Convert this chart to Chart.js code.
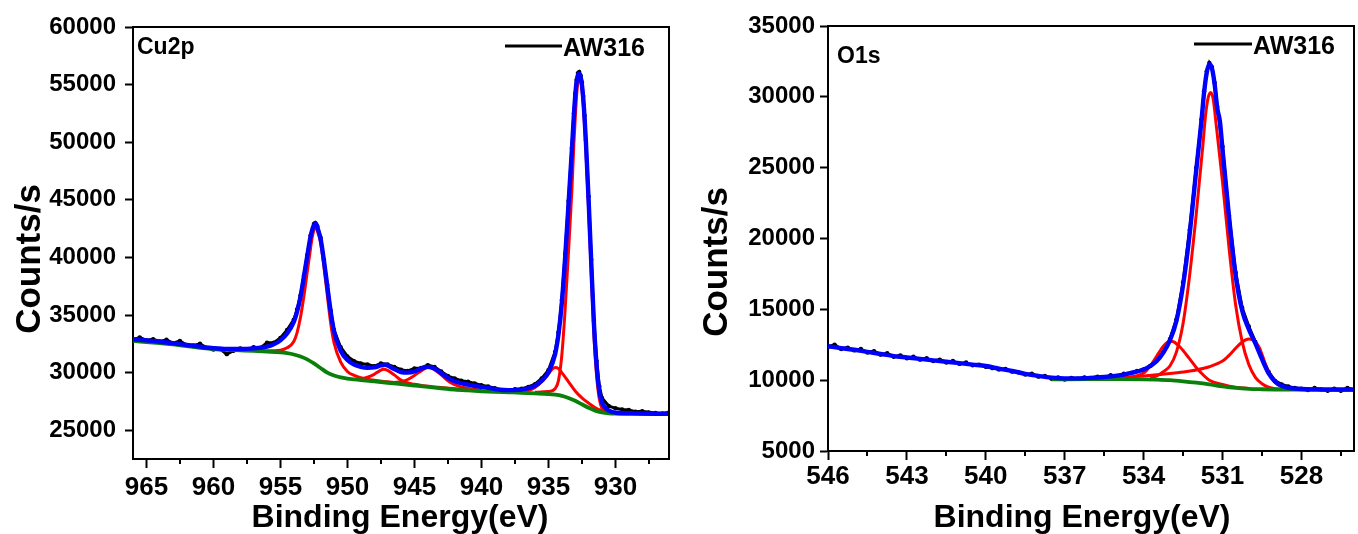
<!DOCTYPE html>
<html>
<head>
<meta charset="utf-8">
<script src="https://cdn.jsdelivr.net/npm/chart.js@4.4.1/dist/chart.umd.min.js"></script>
<style>
  html, body { margin: 0; padding: 0; background: #fff; }
  #wrap { position: relative; width: 1358px; height: 534px; overflow: hidden; }
  canvas { position: absolute; top: 0; }
  #cu { left: 0; }
  #ox { left: 680px; }
</style>
</head>
<body>
<div id="wrap">
  <canvas id="cu" width="680" height="534"></canvas>
  <canvas id="ox" width="678" height="534"></canvas>
</div>
<script>
// ---------- Cu2p ----------
var cuTickX = [965, 960, 955, 950, 945, 940, 935, 930];
var cuMinorX = [962.5, 957.5, 952.5, 947.5, 942.5, 937.5, 932.5, 927.5];
var cuTickY = [25000, 30000, 35000, 40000, 45000, 50000, 55000, 60000];

// raw spectrum (black)
var cuRawE = [966,965.5,965,964.5,964,963.5,963,962.5,962,961.5,961,960.5,960,959.5,959,958.5,958,957.5,957,956.5,956,955.5,955,954.5,954,953.75,953.5,953.25,953,952.75,952.5,952.4,952.25,952,951.75,951.5,951.25,951,950.5,950,949.5,949,948.5,948,947.5,947,946.5,946,945.5,945,944.5,944,943.5,943,942.5,942,941.5,941,940.5,940,939.5,939,938.5,938,937.5,937,936.5,936,935.5,935,934.5,934.25,934,933.75,933.5,933.25,933.1,933,932.9,932.8,932.7,932.6,932.5,932.4,932.3,932.2,932,931.8,931.6,931.4,931.2,931,930.5,930,929.5,929,928.5,928,927.5,927,926.5,926];
var cuRawC = [32850,33050,32800,32900,32700,32850,32550,32750,32400,32350,32500,32150,32000,32050,31600,31900,32100,32000,32200,32150,32600,32600,33000,33700,34600,35500,36700,38400,40200,41900,42900,43000,42700,41700,39800,37600,35400,33700,32200,31400,31000,30800,30700,30550,30800,30700,30500,30250,30150,30350,30400,30650,30500,30100,29700,29500,29300,29200,29050,28900,28800,28650,28400,28450,28550,28600,28750,29000,29500,30200,31800,33500,36300,40300,44900,49500,52500,54200,55400,56000,56100,55800,55200,54000,52300,50200,45300,39800,34500,31000,28800,27800,27100,26900,26800,26750,26600,26650,26550,26500,26450,26550];

// envelope (blue)
var cuFitE = [966,965,964,963,962,961,960,959,958,957,956,955.5,955,954.5,954,953.75,953.5,953.25,953,952.75,952.6,952.5,952.4,952.3,952.2,952,951.75,951.5,951.25,951,950.5,950,949.5,949,948.5,948,947.5,947.2,947,946.5,946,945.5,945,944.5,944,943.5,943,942.5,942,941,940,939,938,937,936.5,936,935.5,935,934.5,934.25,934,933.75,933.5,933.25,933.1,933,932.9,932.8,932.7,932.6,932.5,932.4,932.3,932.2,932,931.8,931.6,931.4,931.2,931,930.5,930,929,928,927,926];
var cuFitC = [32900,32800,32680,32550,32400,32250,32120,32050,32050,32100,32250,32450,32800,33400,34400,35300,36600,38300,40100,41800,42500,42800,42950,42850,42450,41600,39700,37500,35300,33600,31900,31100,30700,30500,30420,30450,30620,30680,30620,30300,30050,30000,30100,30350,30500,30350,29950,29550,29250,28950,28750,28580,28480,28520,28650,28850,29300,30000,31600,33300,36000,40000,44600,49300,52300,54000,55200,55800,55950,55700,55000,53800,52100,50000,45000,39500,34200,30600,28400,27400,26700,26520,26480,26450,26430,26420];

// background (green)
var cuBgE = [966,965,964,963,962,961,960,959,958,957,956,955,954.5,954,953.5,953,952.5,952,951.5,951,950.5,950,949,948,947,946,945,944,943,942,941,940,939,938,937,936,935,934.5,934,933.5,933,932.5,932,931.5,931,930.5,930,928,926];
var cuBgC = [32750,32650,32550,32450,32300,32150,32050,31980,31930,31880,31820,31750,31680,31570,31400,31150,30800,30400,30000,29750,29580,29480,29350,29230,29120,29000,28880,28760,28640,28530,28450,28380,28330,28290,28250,28200,28140,28080,27980,27800,27550,27250,26950,26700,26550,26470,26440,26420,26420];

// fitted components (red)
var cuP1E = [958,957,956,955,954.5,954,953.75,953.5,953.25,953,952.75,952.6,952.5,952.4,952.3,952.2,952,951.75,951.5,951.25,951,950.5,950,949.5,949,948.5,948,947,945,943,940];
var cuP1C = [31980,31930,31900,31950,32150,32700,33500,34800,36600,38700,40800,41900,42350,42600,42500,42150,41300,39200,36700,34300,32600,30900,30100,29750,29550,29420,29330,29200,28950,28700,28420];
var cuP2E = [949.5,949,948.5,948,947.6,947.3,947,946.5,946,945.5,945,944.5];
var cuP2C = [29400,29450,29600,29850,30150,30300,30200,29800,29350,29100,28980,28900];
var cuP3E = [946.5,946,945.5,945,944.5,944,943.8,943.5,943,942.5,942,941.5,941,940];
var cuP3C = [29150,29200,29400,29750,30150,30450,30450,30250,29800,29300,28950,28750,28620,28470];
var cuP4E = [938,937,936.5,936,935.5,935,934.75,934.5,934.25,934,933.5,933,932.5,932,931.5,931,930.5,930,929];
var cuP4C = [28320,28350,28450,28700,29200,29900,30250,30450,30350,30000,29200,28400,27800,27350,26950,26700,26550,26480,26450];
var cuP5E = [936,935,934.5,934.25,934,933.75,933.5,933.25,933.1,933,932.9,932.8,932.7,932.6,932.5,932.4,932.3,932.2,932,931.8,931.6,931.4,931.2,931,930.5,930,929];
var cuP5C = [28300,28350,28600,29300,31500,35500,40500,45800,49800,52000,54000,55200,55600,55400,54600,53300,51500,49300,44200,38600,33200,29700,27700,26900,26500,26440,26430];

// ---------- O1s ----------
var oTickX = [546, 543, 540, 537, 534, 531, 528];
var oMinorX = [544.5, 541.5, 538.5, 535.5, 532.5, 529.5, 526.5];
var oTickY = [5000, 10000, 15000, 20000, 25000, 30000, 35000];

var oRawE = [546,545.75,545.5,545.25,545,544.75,544.5,544.25,544,543.75,543.5,543.25,543,542.75,542.5,542.25,542,541.75,541.5,541.25,541,540.75,540.5,540.25,540,539.75,539.5,539.25,539,538.75,538.5,538.25,538,537.75,537.5,537.25,537,536.75,536.5,536.25,536,535.75,535.5,535.25,535,534.75,534.5,534.25,534,533.75,533.5,533.25,533,532.75,532.5,532.25,532,531.8,531.7,531.6,531.5,531.4,531.3,531.2,531,530.75,530.5,530.25,530,529.75,529.5,529.25,529,528.75,528.5,528.25,528,527.75,527.5,527.25,527,526.75,526.5,526.25,526];
var oRawC = [12350,12500,12200,12300,12100,12200,11950,12050,11800,11900,11650,11750,11550,11650,11450,11550,11350,11450,11250,11350,11150,11250,11050,11100,10950,10850,10750,10800,10600,10550,10400,10450,10250,10300,10100,10200,10050,10150,10100,10200,10150,10250,10200,10350,10300,10450,10500,10650,10750,11000,11400,12000,12900,14300,16900,20600,25000,28400,30400,31800,32400,32100,31000,29300,26500,21600,17600,15100,13800,12700,11600,10600,9950,9700,9550,9450,9400,9300,9450,9350,9250,9400,9250,9450,9300];

var oFitE = [546,545.5,545,544.5,544,543.5,543,542.5,542,541.5,541,540.5,540,539.5,539,538.5,538,537.5,537,536.5,536,535.5,535,534.5,534,533.75,533.5,533.25,533,532.75,532.5,532.25,532,531.8,531.7,531.6,531.5,531.4,531.3,531.2,531.1,531,530.75,530.5,530.25,530,529.75,529.5,529.25,529,528.75,528.5,528,527.5,527,526.5,526];
var oFitC = [12400,12250,12150,12000,11850,11700,11600,11500,11400,11300,11200,11100,11000,10820,10650,10450,10300,10180,10130,10130,10160,10220,10320,10500,10750,11000,11350,11950,12800,14200,16700,20300,24800,28300,30300,31700,32300,32000,30900,29200,28300,26300,21500,17400,14900,13600,12600,11500,10500,9900,9600,9450,9380,9350,9340,9340,9350];

var oBgE = [537.5,537,536,535,534,533.5,533,532.5,532,531.5,531,530.5,530,529.5,529,528,527,526];
var oBgC = [10050,10060,10070,10070,10060,10040,10000,9920,9820,9700,9560,9450,9390,9360,9340,9330,9320,9320];

var oP1E = [533.75,533.5,533.25,533,532.75,532.5,532.25,532,531.75,531.65,531.55,531.45,531.35,531.25,531,530.75,530.5,530.25,530,529.75,529.5,529.25,529,528.5];
var oP1C = [10150,10300,10600,11000,12000,14000,17400,21700,26500,28600,29900,30300,29800,28200,24000,19300,15300,12700,11100,10200,9750,9500,9400,9350];
var oP2E = [535.5,535,534.5,534,533.75,533.5,533.25,533,532.85,532.6,532.25,532,531.75,531.5,531,530.5,530];
var oP2C = [10080,10100,10200,10500,11000,11700,12400,12750,12700,12300,11500,10900,10400,10000,9700,9500,9420];
var oP3E = [535.5,535,534.5,534,533.5,533,532.5,532,531.5,531,530.75,530.5,530.25,530,529.85,529.6,529.4,529.2,529,528.75,528.5,528,527.5];
var oP3C = [10100,10160,10230,10300,10380,10470,10580,10720,10950,11350,11750,12250,12700,12900,12850,12300,11300,10400,9850,9550,9420,9350,9330];

Chart.defaults.font.family = "'Liberation Sans', Arial, sans-serif";
Chart.defaults.font.weight = 'bold';
Chart.defaults.color = '#000';

function pts(xs, ys) {
  var out = [];
  for (var i = 0; i < xs.length; i++) out.push({ x: xs[i], y: ys[i] });
  return out;
}

function line(xs, ys, color, width, order, smooth) {
  return {
    data: pts(xs, ys),
    borderColor: color,
    backgroundColor: color,
    borderWidth: width,
    pointRadius: smooth ? 0 : 2.2,
    pointBorderWidth: 0,
    cubicInterpolationMode: smooth ? 'monotone' : 'default',
    tension: 0,
    fill: false,
    order: order
  };
}

// frame, minor ticks, titles, labels
function decor(o) {
  return {
    id: 'decor',
    afterDraw: function(chart) {
      var c = chart.ctx, a = chart.chartArea, xs = chart.scales.x;
      c.save();
      c.strokeStyle = '#000';
      c.lineWidth = 2;
      c.beginPath();
      c.moveTo(a.left, a.top);
      c.lineTo(a.right, a.top);
      c.lineTo(a.right, a.bottom + 1);
      c.stroke();
      c.beginPath();
      o.minor.forEach(function(v) {
        var px = Math.round(xs.getPixelForValue(v));
        c.moveTo(px, a.bottom);
        c.lineTo(px, a.bottom + 5);
      });
      c.stroke();

      c.fillStyle = '#000';
      c.font = "bold 23px 'Liberation Sans', Arial, sans-serif";
      c.textAlign = 'left';
      c.textBaseline = 'alphabetic';
      c.fillText(o.name, o.nameX, o.nameY);

      c.lineWidth = 3;
      c.beginPath();
      c.moveTo(o.legX1, o.legY);
      c.lineTo(o.legX2, o.legY);
      c.stroke();
      c.font = "bold 25px 'Liberation Sans', Arial, sans-serif";
      c.fillText('AW316', o.legX2 + 1, o.legY + 10);

      c.textAlign = 'center';
      c.font = "bold 32px 'Liberation Sans', Arial, sans-serif";
      c.fillText('Binding Energy(eV)', o.xtX, 527);

      c.translate(o.ytX, o.ytY);
      c.rotate(-Math.PI / 2);
      c.font = "bold 35px 'Liberation Sans', Arial, sans-serif";
      c.fillText('Counts/s', 0, 0);
      c.restore();
    }
  };
}

function makeChart(id, s) {
  var datasets = [line(s.rawE, s.rawC, '#000000', 3, 4, false)];
  s.peaks.forEach(function(p) { datasets.push(line(p[0], p[1], '#ff0000', 3, 3, true)); });
  datasets.push(line(s.bgE, s.bgC, '#0a800a', 3.8, 2, true));
  datasets.push(line(s.fitE, s.fitC, '#0000ff', 4.4, 1, true));

  return new Chart(document.getElementById(id), {
    type: 'line',
    data: { datasets: datasets },
    options: {
      responsive: false,
      animation: false,
      devicePixelRatio: 1,
      layout: { padding: s.pad },
      plugins: { legend: { display: false }, tooltip: { enabled: false } },
      scales: {
        x: {
          type: 'linear',
          reverse: true,
          min: s.xMin, max: s.xMax,
          afterBuildTicks: function(sc) { sc.ticks = s.tickX.map(function(v) { return { value: v }; }); },
          afterFit: function(sc) { sc.height = s.xH; },
          ticks: { font: { size: 26, weight: 'bold' }, padding: s.xPad, maxRotation: 0, autoSkip: false,
                   callback: function(v) { return String(v); } },
          grid: { drawOnChartArea: false, tickLength: 9, tickWidth: 2, tickColor: '#000' },
          border: { display: true, color: '#000', width: 2 }
        },
        y: {
          type: 'linear',
          min: s.yMin, max: s.yMax,
          afterBuildTicks: function(sc) { sc.ticks = s.tickY.map(function(v) { return { value: v }; }); },
          afterFit: function(sc) { sc.width = s.yW; },
          ticks: { font: { size: 24, weight: 'bold' }, padding: s.yPad,
                   callback: function(v) { return String(v); } },
          grid: { drawOnChartArea: false, tickLength: 8, tickWidth: 2, tickColor: '#000' },
          border: { display: true, color: '#000', width: 2 }
        }
      }
    },
    plugins: [decor(s.deco)]
  });
}

makeChart('cu', {
  rawE: cuRawE, rawC: cuRawC, fitE: cuFitE, fitC: cuFitC, bgE: cuBgE, bgC: cuBgC,
  peaks: [[cuP1E, cuP1C], [cuP2E, cuP2C], [cuP3E, cuP3C], [cuP4E, cuP4C], [cuP5E, cuP5C]],
  xMin: 926, xMax: 966, yMin: 22500, yMax: 60000,
  tickX: cuTickX, tickY: cuTickY,
  pad: { top: 27, right: 11, left: 0, bottom: 0 },
  xH: 75, yW: 133, xPad: 4, yPad: 9,
  deco: { minor: cuMinorX, name: 'Cu2p', nameX: 137, nameY: 54,
          legX1: 505, legX2: 562, legY: 46, xtX: 400, ytX: 40, ytY: 259 }
});

makeChart('ox', {
  rawE: oRawE, rawC: oRawC, fitE: oFitE, fitC: oFitC, bgE: oBgE, bgC: oBgC,
  peaks: [[oP1E, oP1C], [oP2E, oP2C], [oP3E, oP3C]],
  xMin: 526, xMax: 546, yMin: 5000, yMax: 35000,
  tickX: oTickX, tickY: oTickY,
  pad: { top: 26, right: 4, left: 0, bottom: 0 },
  xH: 83, yW: 148, xPad: 1, yPad: 5,
  deco: { minor: oMinorX, name: 'O1s', nameX: 157, nameY: 63,
          legX1: 514, legX2: 572, legY: 44, xtX: 402, ytX: 47, ytY: 262 }
});
</script>
</body>
</html>
